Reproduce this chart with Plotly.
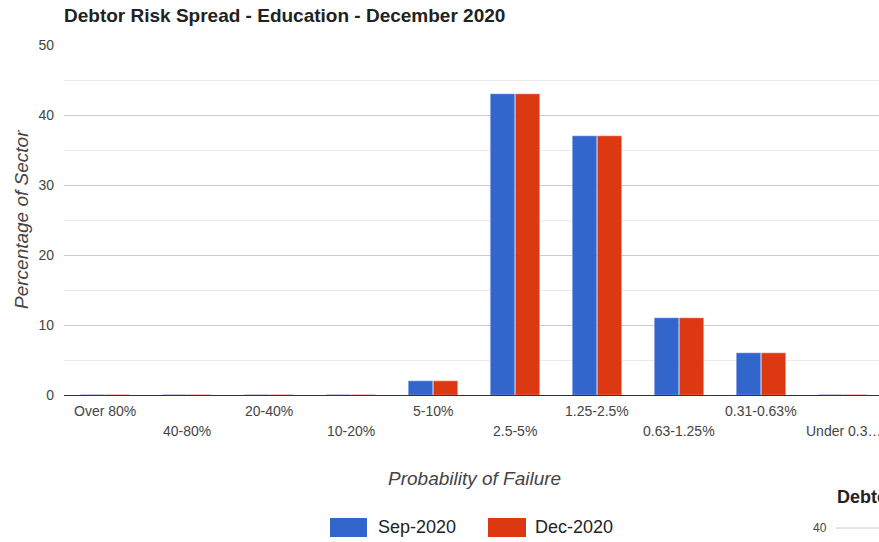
import plotly.graph_objects as go

categories = ["Over 80%", "40-80%", "20-40%", "10-20%", "5-10%", "2.5-5%",
              "1.25-2.5%", "0.63-1.25%", "0.31-0.63%", "Under 0.31%"]
tick_labels = ["Over 80%", "40-80%", "20-40%", "10-20%", "5-10%", "2.5-5%",
               "1.25-2.5%", "0.63-1.25%", "0.31-0.63%", "Under 0.3\u2026"]
sep_2020 = [0, 0, 0, 0, 2, 43, 37, 11, 6, 0]
dec_2020 = [0, 0, 0, 0, 2, 43, 37, 11, 6, 0]
series_names = ["Sep-2020", "Dec-2020"]
colors = ["#3366cc", "#dc3912"]
edge_colors = ["#7f9de0", "#f08a70"]

FONT = "Arial, Liberation Sans, sans-serif"

fig = go.Figure()
for name, vals, col, ec in zip(series_names, [sep_2020, dec_2020], colors, edge_colors):
    fig.add_trace(go.Bar(x=categories, y=vals, name=name,
                         marker=dict(color=col, line=dict(width=0.6, color=ec))))

W, H = 879, 542
L, R, T, B = 64, 0, 45, 147
pw = W - L - R
ph = H - T - B

def px_x(px):
    return (px - L) / pw

def px_y(py):
    return (H - B - py) / ph

annotations = []
# staggered category labels
for i, (c, lab) in enumerate(zip(categories, tick_labels)):
    annotations.append(dict(x=c, y=0, xref="x", yref="y", text=lab,
                            showarrow=False, xanchor="center", yanchor="middle",
                            yshift=-16 if i % 2 == 0 else -36,
                            font=dict(family=FONT, size=14, color="#444444")))
# axis titles
annotations.append(dict(x=px_x(474), y=px_y(478), xref="paper", yref="paper",
                        text="<i>Probability of Failure</i>", showarrow=False,
                        xanchor="center", yanchor="middle",
                        font=dict(family=FONT, size=19, color="#444444")))
annotations.append(dict(x=px_x(21), y=px_y(220), xref="paper", yref="paper",
                        text="<i>Percentage of Sector</i>", showarrow=False,
                        textangle=-90, xanchor="center", yanchor="middle",
                        font=dict(family=FONT, size=19, color="#444444")))
# legend texts
annotations.append(dict(x=px_x(376), y=px_y(527), xref="paper", yref="paper",
                        text=series_names[0], showarrow=False,
                        xanchor="left", yanchor="middle",
                        font=dict(family=FONT, size=18, color="#222222")))
annotations.append(dict(x=px_x(533), y=px_y(527), xref="paper", yref="paper",
                        text=series_names[1], showarrow=False,
                        xanchor="left", yanchor="middle",
                        font=dict(family=FONT, size=18, color="#222222")))
# fragment of neighbouring chart
annotations.append(dict(x=px_x(835), y=px_y(497), xref="paper", yref="paper",
                        text="<b>Debtor Risk Spread</b>", showarrow=False,
                        xanchor="left", yanchor="middle",
                        font=dict(family=FONT, size=18, color="#222222")))
annotations.append(dict(x=px_x(829), y=px_y(528), xref="paper", yref="paper",
                        text="40", showarrow=False,
                        xanchor="right", yanchor="middle",
                        font=dict(family=FONT, size=12, color="#444444")))

shapes = [
    dict(type="rect", xref="paper", yref="paper", x0=px_x(330), x1=px_x(367),
         y0=px_y(537), y1=px_y(518), fillcolor=colors[0], line=dict(width=0)),
    dict(type="rect", xref="paper", yref="paper", x0=px_x(488), x1=px_x(526),
         y0=px_y(537), y1=px_y(518), fillcolor=colors[1], line=dict(width=0)),
    dict(type="line", xref="paper", yref="paper", x0=px_x(836), x1=1.0,
         y0=px_y(528), y1=px_y(528), line=dict(color="#cccccc", width=1)),
]

fig.update_layout(
    width=W, height=H,
    margin=dict(l=L, r=R, t=T, b=B, autoexpand=False),
    paper_bgcolor="white", plot_bgcolor="white",
    barmode="group", bargap=0.39, bargroupgap=0.04,
    showlegend=False,
    title=dict(text="<b>Debtor Risk Spread - Education - December 2020</b>",
               x=0, xref="paper", xanchor="left",
               y=1 - 15 / H, yref="container", yanchor="middle",
               font=dict(family=FONT, size=19, color="#222222")),
    font=dict(family=FONT),
    xaxis=dict(type="category", range=[-0.5, (pw / 82) - 0.5],
               showticklabels=False, showgrid=False, ticks="",
               zeroline=False, showline=False, fixedrange=True),
    yaxis=dict(range=[0, 50], dtick=10, showgrid=True, gridcolor="#cccccc",
               gridwidth=1, zeroline=True, zerolinecolor="#333333",
               zerolinewidth=1, ticks="", ticklabelstandoff=9,
               tickfont=dict(family=FONT, size=14, color="#444444"),
               minor=dict(dtick=5, showgrid=True, gridcolor="#ebebeb",
                          gridwidth=1),
               showline=False, fixedrange=True),
    annotations=annotations,
    shapes=shapes,
)

fig.write_html("out.html", config={"displayModeBar": False},
               post_script="document.body.style.margin='0';"
                           "document.body.style.overflow='hidden';")
